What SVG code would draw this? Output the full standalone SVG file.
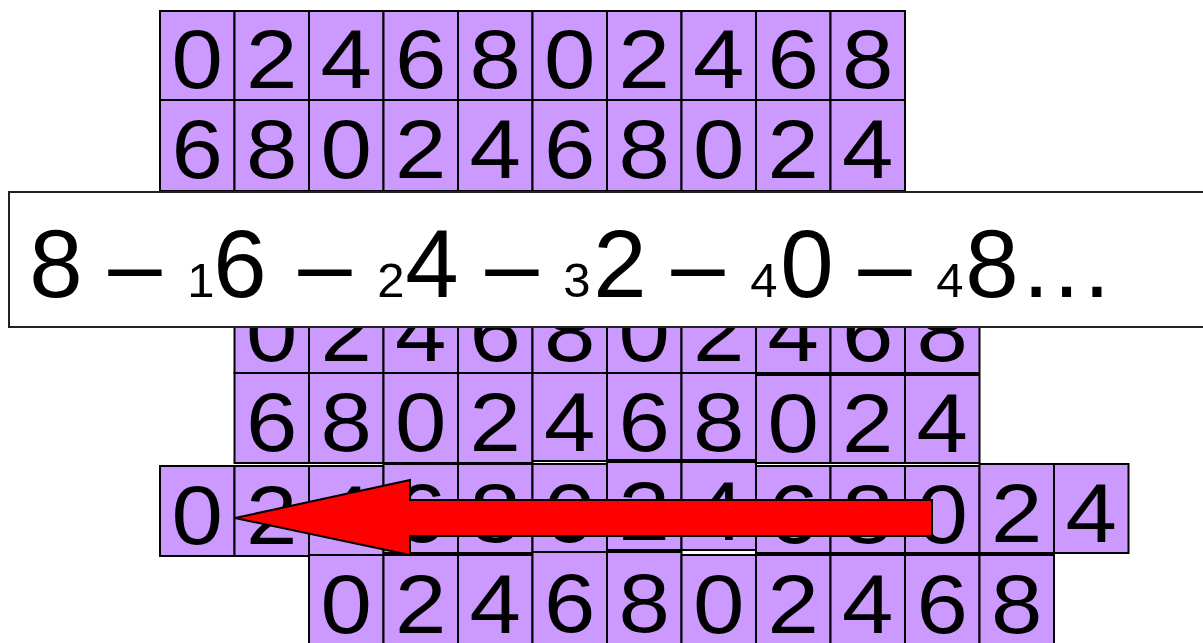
<svg xmlns="http://www.w3.org/2000/svg" width="1203" height="643" viewBox="0 0 1203 643">
<style>
.c rect{fill:#CC99FF;stroke:#000;stroke-width:2}
.c text{font-family:"Liberation Sans",Arial,sans-serif;font-size:84px;text-anchor:middle;fill:#000;transform:scaleX(1.1);transform-box:fill-box;transform-origin:center}
.lbl{font-family:"Liberation Sans",Arial,sans-serif;text-anchor:middle;fill:#000}
.big{font-size:96px}
.sub{font-size:49px}
</style>
<rect width="1203" height="643" fill="#fff"/>
<g id="row1">
<g id="r1c0" class="c" transform="translate(160,11)"><rect width="74.5" height="89"/><text x="37.25" y="77">0</text></g>
<g id="r1c1" class="c" transform="translate(234.5,11)"><rect width="74.5" height="89"/><text x="37.25" y="77">2</text></g>
<g id="r1c2" class="c" transform="translate(309,11)"><rect width="74.5" height="89"/><text x="37.25" y="77">4</text></g>
<g id="r1c3" class="c" transform="translate(383.5,11)"><rect width="74.5" height="89"/><text x="37.25" y="77">6</text></g>
<g id="r1c4" class="c" transform="translate(458,11)"><rect width="74.5" height="89"/><text x="37.25" y="77">8</text></g>
<g id="r1c5" class="c" transform="translate(532.5,11)"><rect width="74.5" height="89"/><text x="37.25" y="77">0</text></g>
<g id="r1c6" class="c" transform="translate(607,11)"><rect width="74.5" height="89"/><text x="37.25" y="77">2</text></g>
<g id="r1c7" class="c" transform="translate(681.5,11)"><rect width="74.5" height="89"/><text x="37.25" y="77">4</text></g>
<g id="r1c8" class="c" transform="translate(756,11)"><rect width="74.5" height="89"/><text x="37.25" y="77">6</text></g>
<g id="r1c9" class="c" transform="translate(830.5,11)"><rect width="74.5" height="89"/><text x="37.25" y="77">8</text></g>
</g>
<g id="row2">
<g id="r2c0" class="c" transform="translate(160,100)"><rect width="74.5" height="91"/><text x="37.25" y="78">6</text></g>
<g id="r2c1" class="c" transform="translate(234.5,100)"><rect width="74.5" height="91"/><text x="37.25" y="78">8</text></g>
<g id="r2c2" class="c" transform="translate(309,100)"><rect width="74.5" height="91"/><text x="37.25" y="78">0</text></g>
<g id="r2c3" class="c" transform="translate(383.5,100)"><rect width="74.5" height="91"/><text x="37.25" y="78">2</text></g>
<g id="r2c4" class="c" transform="translate(458,100)"><rect width="74.5" height="91"/><text x="37.25" y="78">4</text></g>
<g id="r2c5" class="c" transform="translate(532.5,100)"><rect width="74.5" height="91"/><text x="37.25" y="78">6</text></g>
<g id="r2c6" class="c" transform="translate(607,100)"><rect width="74.5" height="91"/><text x="37.25" y="78">8</text></g>
<g id="r2c7" class="c" transform="translate(681.5,100)"><rect width="74.5" height="91"/><text x="37.25" y="78">0</text></g>
<g id="r2c8" class="c" transform="translate(756,100)"><rect width="74.5" height="91"/><text x="37.25" y="78">2</text></g>
<g id="r2c9" class="c" transform="translate(830.5,100)"><rect width="74.5" height="91"/><text x="37.25" y="78">4</text></g>
</g>
<g id="row3">
<g id="r3c1" class="c" transform="translate(234.5,283)"><rect width="74.5" height="90"/><text x="37.25" y="78">0</text></g>
<g id="r3c2" class="c" transform="translate(309,283)"><rect width="74.5" height="90"/><text x="37.25" y="78">2</text></g>
<g id="r3c3" class="c" transform="translate(383.5,283)"><rect width="74.5" height="90"/><text x="37.25" y="78">4</text></g>
<g id="r3c4" class="c" transform="translate(458,283)"><rect width="74.5" height="90"/><text x="37.25" y="78">6</text></g>
<g id="r3c5" class="c" transform="translate(532.5,283)"><rect width="74.5" height="90"/><text x="37.25" y="78">8</text></g>
<g id="r3c6" class="c" transform="translate(607,283)"><rect width="74.5" height="90"/><text x="37.25" y="78">0</text></g>
<g id="r3c7" class="c" transform="translate(681.5,283)"><rect width="74.5" height="90"/><text x="37.25" y="78">2</text></g>
<g id="r3c8" class="c" transform="translate(756,283)"><rect width="74.5" height="90"/><text x="37.25" y="78">4</text></g>
<g id="r3c9" class="c" transform="translate(830.5,283)"><rect width="74.5" height="90"/><text x="37.25" y="78">6</text></g>
<g id="r3c10" class="c" transform="translate(905,283)"><rect width="74.5" height="90"/><text x="37.25" y="78">8</text></g>
</g>
<g id="seq">
<rect x="9" y="192" width="1210" height="135" fill="#fff" stroke="#222" stroke-width="2"/>
<text class="lbl" y="297"><tspan class="big" x="56">8</tspan><tspan class="big" x="135">–</tspan><tspan class="sub" x="201">1</tspan><tspan class="big" x="240">6</tspan><tspan class="big" x="325">–</tspan><tspan class="sub" x="391">2</tspan><tspan class="big" x="432">4</tspan><tspan class="big" x="512">–</tspan><tspan class="sub" x="577">3</tspan><tspan class="big" x="620">2</tspan><tspan class="big" x="698">–</tspan><tspan class="sub" x="764">4</tspan><tspan class="big" x="807">0</tspan><tspan class="big" x="885">–</tspan><tspan class="sub" x="950">4</tspan><tspan class="big" x="992">8</tspan><tspan class="big" x="1066.5">…</tspan></text>
</g>
<g id="row4">
<g id="r4c1" class="c" transform="translate(234.5,373)"><rect width="74.5" height="90"/><text x="37.25" y="78">6</text></g>
<g id="r4c2" class="c" transform="translate(309,373)"><rect width="74.5" height="90"/><text x="37.25" y="78">8</text></g>
<g id="r4c3" class="c" transform="translate(383.5,373)"><rect width="74.5" height="90"/><text x="37.25" y="78">0</text></g>
<g id="r4c4" class="c" transform="translate(458,373)"><rect width="74.5" height="90"/><text x="37.25" y="78">2</text></g>
<g id="r4c5" class="c" transform="translate(532.5,373)"><rect width="74.5" height="88"/><text x="37.25" y="78">4</text></g>
<g id="r4c6" class="c" transform="translate(607,373)"><rect width="74.5" height="87"/><text x="37.25" y="78">6</text></g>
<g id="r4c7" class="c" transform="translate(681.5,373)"><rect width="74.5" height="87"/><text x="37.25" y="78">8</text></g>
<g id="r4c8" class="c" transform="translate(756,375)"><rect width="74.5" height="88"/><text x="37.25" y="77">0</text></g>
<g id="r4c9" class="c" transform="translate(830.5,375)"><rect width="74.5" height="88"/><text x="37.25" y="77">2</text></g>
<g id="r4c10" class="c" transform="translate(905,375)"><rect width="74.5" height="88"/><text x="37.25" y="77">4</text></g>
</g>
<g id="row5">
<g id="r5c0" class="c" transform="translate(160,466)"><rect width="74.5" height="90"/><text x="37.25" y="78">0</text></g>
<g id="r5c1" class="c" transform="translate(234.5,466)"><rect width="74.5" height="90"/><text x="37.25" y="78">2</text></g>
<g id="r5c2" class="c" transform="translate(309,466)"><rect width="74.5" height="89"/><text x="37.25" y="78">4</text></g>
<g id="r5c3" class="c" transform="translate(383.5,464)"><rect width="74.5" height="89"/><text x="37.25" y="78">6</text></g>
<g id="r5c4" class="c" transform="translate(458,464)"><rect width="74.5" height="89"/><text x="37.25" y="78">8</text></g>
<g id="r5c5" class="c" transform="translate(532.5,464)"><rect width="74.5" height="88"/><text x="37.25" y="78">0</text></g>
<g id="r5c6" class="c" transform="translate(607,462)"><rect width="74.5" height="88"/><text x="37.25" y="78">2</text></g>
<g id="r5c7" class="c" transform="translate(681.5,462)"><rect width="74.5" height="88"/><text x="37.25" y="78">4</text></g>
<g id="r5c8" class="c" transform="translate(756,466)"><rect width="74.5" height="87"/><text x="37.25" y="77">6</text></g>
<g id="r5c9" class="c" transform="translate(830.5,466)"><rect width="74.5" height="87"/><text x="37.25" y="77">8</text></g>
<g id="r5c10" class="c" transform="translate(905,466)"><rect width="74.5" height="87"/><text x="37.25" y="77">0</text></g>
<g id="r5c11" class="c" transform="translate(979.5,464)"><rect width="74.5" height="89"/><text x="37.25" y="78">2</text></g>
<g id="r5c12" class="c" transform="translate(1054,464)"><rect width="74.5" height="89"/><text x="37.25" y="78">4</text></g>
</g>
<g id="row6">
<g id="r6c2" class="c" transform="translate(309,555)"><rect width="74.5" height="90"/><text x="37.25" y="78">0</text></g>
<g id="r6c3" class="c" transform="translate(383.5,555)"><rect width="74.5" height="90"/><text x="37.25" y="78">2</text></g>
<g id="r6c4" class="c" transform="translate(458,555)"><rect width="74.5" height="90"/><text x="37.25" y="78">4</text></g>
<g id="r6c5" class="c" transform="translate(532.5,552)"><rect width="74.5" height="92"/><text x="37.25" y="80">6</text></g>
<g id="r6c6" class="c" transform="translate(607,552)"><rect width="74.5" height="92"/><text x="37.25" y="80">8</text></g>
<g id="r6c7" class="c" transform="translate(681.5,555)"><rect width="74.5" height="90"/><text x="37.25" y="78">0</text></g>
<g id="r6c8" class="c" transform="translate(756,555)"><rect width="74.5" height="90"/><text x="37.25" y="78">2</text></g>
<g id="r6c9" class="c" transform="translate(830.5,555)"><rect width="74.5" height="90"/><text x="37.25" y="78">4</text></g>
<g id="r6c10" class="c" transform="translate(905,555)"><rect width="74.5" height="90"/><text x="37.25" y="78">6</text></g>
<g id="r6c11" class="c" transform="translate(979.5,555)"><rect width="74.5" height="90"/><text x="37.25" y="78">8</text></g>
</g>
<g id="connectors">
<polygon points="932,500 410,500 410,480 235,518 410,555 410,536 932,536" fill="#FF0000" stroke="#000" stroke-width="2" stroke-linejoin="miter"/>
</g>
</svg>
